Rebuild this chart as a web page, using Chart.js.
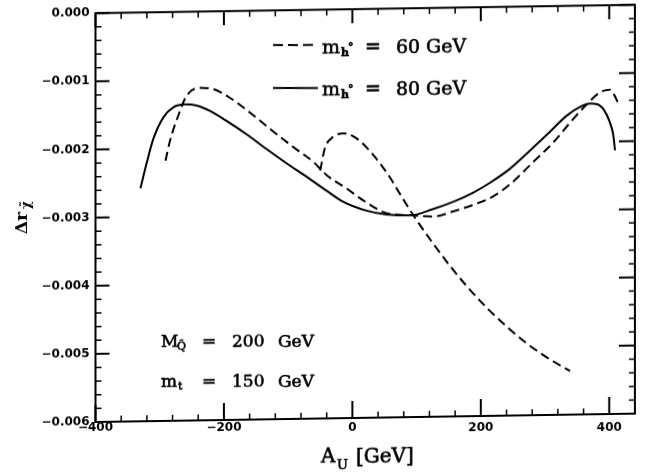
<!DOCTYPE html>
<html><head><meta charset="utf-8">
<script src="https://cdn.jsdelivr.net/npm/chart.js@4.4.1/dist/chart.umd.min.js"></script>
<style>
html,body{margin:0;padding:0;background:#fff;overflow:hidden;width:656px;height:473px;}
#wrap{position:absolute;left:0;top:0;width:656px;height:480px;transform:skewY(-0.89deg);transform-origin:95.5px 0;background:#fff;}
canvas{display:block;}
</style></head><body>
<div id="wrap"><canvas id="c" width="656" height="480"></canvas></div>
<script>
// ---- data (A_U in GeV, Delta r) ----
const xTickValues = [-400, -200, 0, 200, 400];
const yTickValues = [0, -0.001, -0.002, -0.003, -0.004, -0.005, -0.006];

// m_h0 = 80 GeV (solid)
const solid80X = [-330,-320,-310,-294,-279,-261,-242,-222,-196,-165,-134,-102,-71,-40,-15,22,53,90,126,157,188,214,245,276,307,334,354,370,381,392,401,406,409];
const solid80Y = [-0.00258,-0.00220,-0.00186,-0.00154,-0.00140,-0.00136,-0.00138,-0.00146,-0.00161,-0.00181,-0.00203,-0.00225,-0.00245,-0.00266,-0.00282,-0.00296,-0.00302,-0.00304,-0.00295,-0.00285,-0.00272,-0.00258,-0.00238,-0.00212,-0.00185,-0.00161,-0.00149,-0.00144,-0.00145,-0.00154,-0.00172,-0.00189,-0.00213];

// m_h0 = 60 GeV (dashed), main branch
const dashed60aX = [-291,-284,-271,-258,-237,-217,-191,-160,-128,-92,-61,-40,-9,22,53,95,126,157,188,219,245,282,313,344,365,385,401,411,414];
const dashed60aY = [-0.00218,-0.00189,-0.00152,-0.00123,-0.00112,-0.00114,-0.00127,-0.00149,-0.00174,-0.00201,-0.00223,-0.00243,-0.00263,-0.00284,-0.00300,-0.00304,-0.00306,-0.00299,-0.00290,-0.00278,-0.00261,-0.00228,-0.00200,-0.00166,-0.00145,-0.00128,-0.00124,-0.00138,-0.00145];

// m_h0 = 60 GeV (dashed), second branch
const dashed60bX = [-50,-43,-30,-14,7,33,58,74,85,100,126,152,178,209,240,271,302,339];
const dashed60bY = [-0.00236,-0.00204,-0.00187,-0.00182,-0.00190,-0.00215,-0.00247,-0.00272,-0.00289,-0.00311,-0.00346,-0.00379,-0.00409,-0.00441,-0.00469,-0.00494,-0.00515,-0.00536];

const K = 0.0155; // shear compensation for scan tilt (text placement)
const pts = (xs, ys) => xs.map((x, i) => ({x, y: ys[i]}));
const fmtY = v => { const n = Math.round(v * 1000); return n === 0 ? '0.000' : '\u2212' + (Math.abs(n) / 1000).toFixed(3); };
const fmtX = v => (v < 0 ? '\u2212' : '') + Math.abs(v);

function T(ctx, s, x, y, font) {
  ctx.font = font;
  const yy = y + K * (x - 95.5);
  ctx.fillText(s, x, yy);
  ctx.lineWidth = 0.6;
  ctx.strokeText(s, x, yy);
}

const decor = {
  id: 'decor',
  afterDraw(chart) {
    const {ctx, chartArea: a, scales: {x, y}} = chart;
    ctx.save();
    ctx.strokeStyle = '#000';
    ctx.fillStyle = '#000';
    // frame
    ctx.lineWidth = 2;
    ctx.strokeRect(a.left, a.top, a.right - a.left, a.bottom - a.top);
    const seg = (x1, y1, x2, y2, w) => { ctx.lineWidth = w; ctx.beginPath(); ctx.moveTo(x1, y1); ctx.lineTo(x2, y2); ctx.stroke(); };
    // x ticks
    for (let v = -400; v < 440; v += 40) {
      const px = x.getPixelForValue(v);
      const major = xTickValues.includes(v);
      seg(px, a.bottom, px, a.bottom - (major ? 17 : 6), major ? 2 : 1.5);
      seg(px, a.top, px, a.top + (major ? 14 : 6), major ? 2 : 1.5);
    }
    // y ticks
    for (let i = 0; i <= 30; i++) {
      const v = -i * 0.0002;
      const py = y.getPixelForValue(v);
      const major = i % 5 === 0;
      seg(a.left, py, a.left + (major ? 14 : 6), py, major ? 2 : 1.5);
      seg(a.right, py, a.right - (major ? 16 : 6), py, major ? 2 : 1.5);
    }
    // x tick labels
    ctx.textAlign = 'center';
    ctx.textBaseline = 'middle';
    ctx.font = 'bold 12px "DejaVu Sans"';
    xTickValues.forEach(v => {
      const px = x.getPixelForValue(v);
      ctx.fillText(fmtX(v), px, 427.5 + K * (px - 95.5));
    });
    // axis titles
    ctx.textAlign = 'left';
    ctx.textBaseline = 'alphabetic';
    T(ctx, 'A', 321, 463, '20px "DejaVu Serif"');
    T(ctx, 'U', 337, 469, '13px "DejaVu Serif"');
    T(ctx, '[GeV]', 356, 463, '20px "DejaVu Serif"');
    ctx.save();
    ctx.translate(27, 215);
    ctx.rotate(-Math.PI / 2);
    ctx.font = 'bold 17px "DejaVu Serif"';
    ctx.fillText('\u0394r', -18, 0);
    ctx.font = 'bold 12px "DejaVu Serif"';
    ctx.fillText('\u03C7\u0303', 7, 3);
    ctx.restore();
    // legend
    const lg = (y0, dash) => {
      ctx.lineWidth = 2;
      ctx.setLineDash(dash);
      ctx.beginPath();
      ctx.moveTo(273, y0 + K * (273 - 95.5));
      ctx.lineTo(318, y0 + K * (318 - 95.5));
      ctx.stroke();
      ctx.setLineDash([]);
    };
    lg(45, [10, 5]);
    lg(88, []);
    [[53.3, '60'], [95, '80']].forEach(([b, val]) => {
      T(ctx, 'm', 322, b, '19px "DejaVu Serif"');
      T(ctx, 'h', 341, b + 3, 'bold 11px "DejaVu Serif"');
      T(ctx, '\u00B0', 348, b - 2, 'bold 11px "DejaVu Serif"');
      T(ctx, '=', 365, b, '19px "DejaVu Serif"');
      T(ctx, val, 396, b, '19px "DejaVu Serif"');
      T(ctx, 'GeV', 426, b, '19px "DejaVu Serif"');
    });
    // annotations
    T(ctx, 'M', 161, 346.7, '17px "DejaVu Serif"');
    T(ctx, 'Q\u0303', 177, 350, '11px "DejaVu Serif"');
    T(ctx, '=', 202, 346.7, '17px "DejaVu Serif"');
    T(ctx, '200', 232, 346.7, '17px "DejaVu Serif"');
    T(ctx, 'GeV', 278, 346.7, '17px "DejaVu Serif"');
    T(ctx, 'm', 161, 386.7, '17px "DejaVu Serif"');
    T(ctx, 't', 178, 390, '11px "DejaVu Serif"');
    T(ctx, '=', 202, 386.7, '17px "DejaVu Serif"');
    T(ctx, '150', 232, 386.7, '17px "DejaVu Serif"');
    T(ctx, 'GeV', 278, 386.7, '17px "DejaVu Serif"');
    ctx.restore();
  }
};

const lineDs = (xs, ys, dash) => ({
  data: pts(xs, ys), borderColor: '#000', borderWidth: 2, borderDash: dash,
  pointRadius: 0, fill: false, cubicInterpolationMode: 'monotone'
});

new Chart(document.getElementById('c'), {
  type: 'line',
  data: {
    datasets: [
      lineDs(solid80X, solid80Y, []),
      lineDs(dashed60aX, dashed60aY, [9, 5]),
      lineDs(dashed60bX, dashed60bY, [9, 5])
    ]
  },
  options: {
    responsive: false, animation: false, devicePixelRatio: 1,
    layout: {padding: {left: 0, right: 21, top: 10, bottom: 0}},
    plugins: {legend: {display: false}, tooltip: {enabled: false}},
    scales: {
      x: {
        type: 'linear', min: -400, max: 440,
        grid: {display: false}, border: {display: false},
        ticks: {display: false},
        afterFit(s) { s.height = 58; }
      },
      y: {
        type: 'linear', min: -0.006, max: 0,
        grid: {display: false, drawTicks: false}, border: {display: false},
        ticks: {stepSize: 0.001, padding: 6, color: '#000',
          font: {family: 'DejaVu Sans', weight: 'bold', size: 12},
          callback: fmtY},
        afterFit(s) { s.width = 95.5; }
      }
    }
  },
  plugins: [decor]
});
</script></body></html>
